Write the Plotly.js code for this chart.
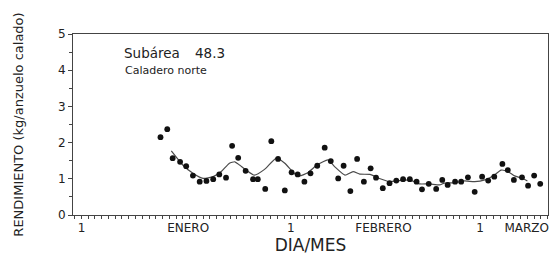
<!DOCTYPE html>
<html>
<head>
<meta charset="utf-8">
<script src="https://cdn.plot.ly/plotly-3.0.1.min.js"></script>
<style>html,body{margin:0;padding:0;background:#fff;}#chart{width:550px;height:255px;}</style>
</head>
<body>
<div id="chart"></div>
<script>
// Day of season (1 = 1 Enero, 32 = 1 Febrero, 60 = 1 Marzo)
const pointDays = [12.7,13.7,14.5,15.6,16.5,17.5,18.5,19.5,20.5,21.4,22.4,23.3,24.2,25.3,26.4,27.1,28.2,29.1,30.1,31.1,32.1,33.0,34.0,34.9,35.9,37.0,37.9,39.0,39.8,40.8,41.8,42.8,43.8,44.6,45.6,46.6,47.6,48.6,49.6,50.6,51.4,52.4,53.5,54.4,55.2,56.3,57.2,58.2,59.2,60.3,61.2,62.1,63.3,64.1,65.0,66.2,67.1,68.0,68.9];
const pointValues = [2.15,2.37,1.57,1.47,1.35,1.09,0.92,0.94,0.99,1.12,1.03,1.91,1.58,1.22,0.99,0.99,0.72,2.04,1.55,0.68,1.18,1.12,0.92,1.15,1.36,1.86,1.49,1.01,1.36,0.66,1.55,0.92,1.29,1.03,0.74,0.88,0.95,0.99,0.99,0.92,0.71,0.86,0.72,0.97,0.83,0.92,0.92,1.04,0.64,1.06,0.95,1.06,1.41,1.24,0.97,1.04,0.81,1.09,0.86];

// Smoothed trend line
const trendDays = [14.3,16.0,17.5,19.0,20.5,21.7,22.9,23.7,24.4,25.4,26.6,28.1,29.9,31.1,32.6,33.3,34.5,36.0,37.5,38.5,40.0,41.2,42.2,43.7,45.1,46.6,48.1,49.6,51.0,52.5,54.0,54.7,56.2,57.7,59.2,60.7,62.1,63.1,64.1,65.1,66.3,67.0];
const trendValues = [1.77,1.38,1.15,1.01,1.06,1.20,1.43,1.47,1.38,1.24,1.10,1.26,1.58,1.43,1.13,1.08,1.17,1.40,1.52,1.33,1.10,1.20,1.13,1.12,1.01,0.92,0.95,0.97,0.86,0.86,0.83,0.88,0.89,0.94,0.92,0.97,1.10,1.24,1.20,1.08,1.01,0.94];

// Axis labels
const xTickVals = [1, 16.8, 32, 45.7, 60, 66.9];
const xTickText = ['1', 'ENERO', '1', 'FEBRERO', '1', 'MARZO'];
const yTickVals = [0, 1, 2, 3, 4, 5];

const font = 'DejaVu Sans, Liberation Sans, Arial, sans-serif';
const ink = '#222';
const axisCol = '#444';

const traces = [
  {
    x: trendDays, y: trendValues, type: 'scatter', mode: 'lines',
    line: {color: '#4a4a4a', width: 1.2, shape: 'spline', smoothing: 0.5},
    hoverinfo: 'skip', showlegend: false
  },
  {
    x: pointDays, y: pointValues, type: 'scatter', mode: 'markers',
    marker: {color: '#111', size: 5.8},
    showlegend: false
  }
];

const layout = {
  width: 550, height: 255,
  margin: {l: 73, r: 2, t: 34, b: 40},
  paper_bgcolor: '#fff', plot_bgcolor: '#fff',
  font: {family: font, color: ink},
  showlegend: false,
  xaxis: {
    range: [-0.25, 70.05],
    tickmode: 'array', tickvals: xTickVals, ticktext: xTickText,
    ticks: '', showgrid: false, zeroline: false,
    showline: true, mirror: true, linecolor: axisCol, linewidth: 1,
    tickfont: {family: font, size: 12, color: ink},
    ticklabelstandoff: 2,
    minor: {tickmode: 'linear', tick0: 0, dtick: 1, ticks: 'outside', ticklen: 3, tickcolor: axisCol, tickwidth: 1, showgrid: false},
    title: {text: 'DIA/MES', font: {family: font, size: 17, color: ink}, standoff: 3}
  },
  yaxis: {
    range: [0, 5],
    tickmode: 'array', tickvals: yTickVals,
    ticks: 'outside', ticklen: 4, tickcolor: axisCol, tickwidth: 1,
    showgrid: false, zeroline: false,
    showline: true, mirror: true, linecolor: axisCol, linewidth: 1,
    tickfont: {family: font, size: 12, color: ink},
    minor: {tickmode: 'linear', tick0: 0, dtick: 0.5, ticks: 'outside', ticklen: 3, tickcolor: axisCol, tickwidth: 1, showgrid: false},
    title: {text: 'RENDIMIENTO (kg/anzuelo calado)', font: {family: font, size: 13, color: ink}, standoff: 31}
  },
  annotations: [
    {xref: 'paper', yref: 'paper', x: 0.103, y: 0.895, xanchor: 'left', yanchor: 'middle',
     text: 'Subárea', showarrow: false, font: {family: font, size: 13.5, color: ink}},
    {xref: 'paper', yref: 'paper', x: 0.252, y: 0.895, xanchor: 'left', yanchor: 'middle',
     text: '48.3', showarrow: false, font: {family: font, size: 13.5, color: ink}},
    {xref: 'paper', yref: 'paper', x: 0.105, y: 0.801, xanchor: 'left', yanchor: 'middle',
     text: 'Caladero norte', showarrow: false, font: {family: font, size: 11, color: ink}}
  ]
};

Plotly.newPlot('chart', traces, layout, {displayModeBar: false, staticPlot: true});
</script>
</body>
</html>
